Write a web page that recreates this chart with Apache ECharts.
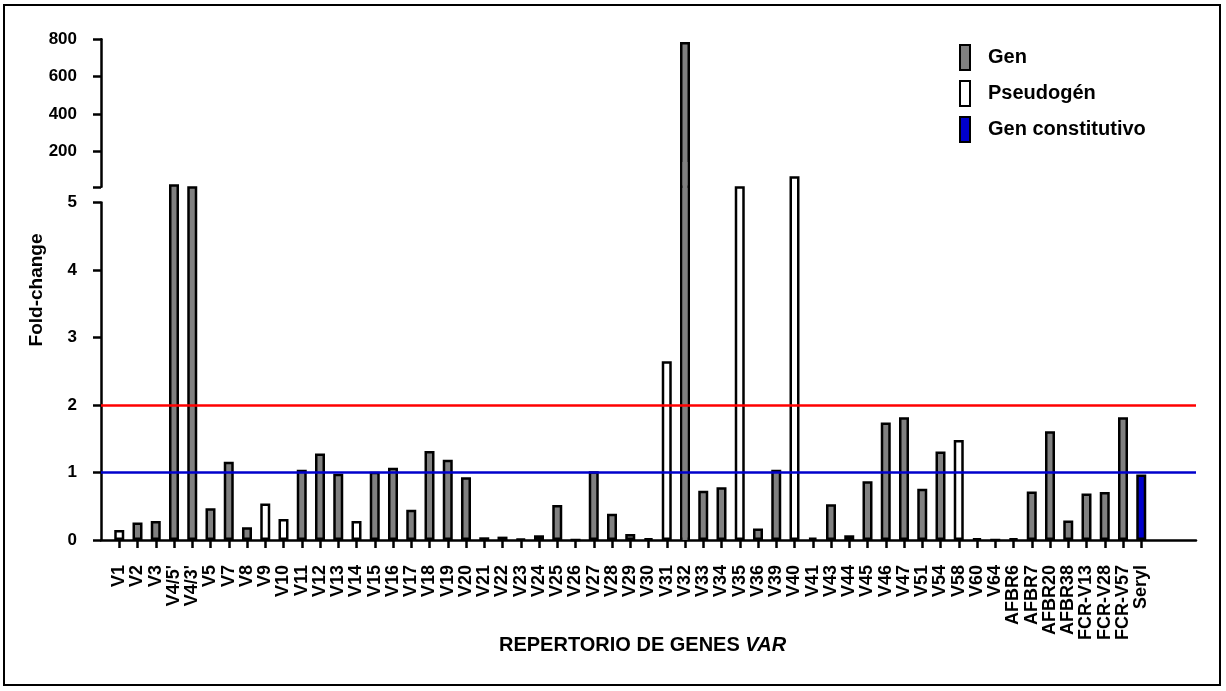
<!DOCTYPE html>
<html>
<head>
<meta charset="utf-8">
<script src="https://cdn.jsdelivr.net/npm/echarts@6/dist/echarts.min.js"></script>
<style>
  html, body { margin: 0; padding: 0; background: #fff; }
  #chart { position: absolute; left: 0; top: 0; width: 1226px; height: 691px; }
  #frame { position: absolute; left: 3px; top: 4px; width: 1218px; height: 682px; border: 2px solid #000; box-sizing: border-box; pointer-events: none; }
</style>
</head>
<body>
<div id="chart"></div>
<div id="frame"></div>
<script>
// ---- data ----
const categories = ["V1","V2","V3","V4/5'","V4/3'","V5","V7","V8","V9","V10","V11","V12","V13","V14","V15","V16","V17","V18","V19","V20","V21","V22","V23","V24","V25","V26","V27","V28","V29","V30","V31","V32","V33","V34","V35","V36","V39","V40","V41","V43","V44","V45","V46","V47","V51","V54","V58","V60","V64","AFBR6","AFBR7","AFBR20","AFBR38","FCR-V13","FCR-V28","FCR-V57","Seryl"];
// G = Gen, P = Pseudogén, C = Gen constitutivo
const geneTypes = ["P","G","G","G","G","G","G","G","P","P","G","G","G","P","G","G","G","G","G","G","G","G","G","G","G","G","G","G","G","G","P","G","G","G","P","G","G","P","G","G","G","G","G","G","G","G","P","G","G","G","G","G","G","G","G","G","C"];
// fold-change as drawn on the lower (0-5) segment; bars above the break are shown at their drawn height
const lowerValues = [0.15,0.26,0.28,5.27,5.24,0.47,1.16,0.19,0.54,0.31,1.04,1.28,0.98,0.28,1.01,1.07,0.45,1.32,1.19,0.93,0.04,0.05,0.015,0.07,0.52,0,1.02,0.39,0.09,0.025,2.65,5.5,0.73,0.78,5.24,0.17,1.04,5.39,0.035,0.53,0.07,0.87,1.74,1.82,0.76,1.31,1.48,0.025,0,0.025,0.72,1.61,0.29,0.69,0.71,1.82,0.97];
// value shown on the upper (200-800) segment
const upperGene = "V32";
const upperValue = 785;
const lowerTicks = [0,1,2,3,4,5];
const upperTicks = [200,400,600,800];
const upperBreak = 10;
const thresholds = [1, 2];
const typeNames = { G: "Gen", P: "Pseudogén", C: "Gen constitutivo" };

// ---- build ----
const pad = (arr, fill) => [fill].concat(arr, [fill, fill, fill]);
const axisCats = pad(categories, "");
const seriesFor = (t) => pad(lowerValues.map((v, i) => geneTypes[i] === t ? v : null), null);
const upperData = pad(categories.map(c => c === upperGene ? upperValue : null), null);
// fill-only joint that hides the seam between the two segments of the broken bar
const jointData = pad(categories.map((c, i) => c === upperGene ? lowerValues[i] + 0.1 : null), null);

const FONT = "Liberation Sans, Arial, sans-serif";
const labelStyle = { fontFamily: FONT, fontWeight: "bold", fontSize: 17, color: "#000" };
const blk = { color: "#000", width: 2.5 };
const fills = { G: "#808080", P: "#ffffff", C: "#0000CC" };
const BW = 10, BORDER = 2.5;

const chart = echarts.init(document.getElementById("chart"), null, { renderer: "canvas" });

const lowerBar = (t) => ({
  name: typeNames[t], type: "bar", xAxisIndex: 0, yAxisIndex: 0,
  data: seriesFor(t), barWidth: BW, barGap: "-100%", clip: false, z: 2,
  itemStyle: { color: fills[t], borderColor: "#000", borderWidth: BORDER },
  emphasis: { disabled: true }
});

chart.setOption({
  animation: false,
  backgroundColor: "#fff",
  title: {
    text: "REPERTORIO DE GENES {i|VAR}",
    left: 494, top: 630,
    textStyle: { fontFamily: FONT, fontWeight: "bold", fontSize: 20, color: "#000",
      rich: { i: { fontFamily: FONT, fontWeight: "bold", fontStyle: "italic", fontSize: 20, color: "#000" } } }
  },
  legend: {
    orient: "vertical", left: 954, top: 39,
    data: ["Gen", "Pseudogén", "Gen constitutivo"],
    itemWidth: 10, itemHeight: 25, itemGap: 9,
    icon: "rect",
    textStyle: { fontFamily: FONT, fontWeight: "bold", fontSize: 20, color: "#000", padding: [0, 0, 0, 13] },
    selectedMode: false
  },
  graphic: [{
    type: "text", x: 37, y: 290, rotation: Math.PI / 2,
    style: { text: "Fold-change", font: "bold 19px " + FONT, fill: "#000", align: "center", verticalAlign: "middle" }
  }],
  grid: [
    { left: 101, right: 30, top: 202.5, bottom: 151 },
    { left: 101, right: 30, top: 39.3, height: 147.5 }
  ],
  xAxis: [
    { type: "category", gridIndex: 0, data: axisCats, boundaryGap: false,
      axisLine: { show: true, lineStyle: blk },
      axisTick: { show: true, length: 8, lineStyle: blk, interval: (i, v) => v !== "" },
      axisLabel: Object.assign({}, labelStyle, { rotate: 90, margin: 25, interval: 0, fontSize: 18 }),
      splitLine: { show: false } },
    { type: "category", gridIndex: 1, data: axisCats, boundaryGap: false, show: false },
    { type: "category", gridIndex: 0, data: axisCats, boundaryGap: false, show: false }
  ],
  yAxis: [
    { type: "value", gridIndex: 0, min: lowerTicks[0], max: lowerTicks[lowerTicks.length - 1], interval: 1,
      axisLine: { show: true, lineStyle: blk },
      axisTick: { show: true, length: 8, lineStyle: blk },
      axisLabel: Object.assign({ margin: 24 }, labelStyle),
      splitLine: { show: false } },
    { type: "value", gridIndex: 1, min: upperBreak, max: upperTicks[upperTicks.length - 1],
      axisLine: { show: true, lineStyle: blk },
      axisTick: { show: true, length: 8, lineStyle: blk, customValues: [upperBreak].concat(upperTicks) },
      axisLabel: Object.assign({ margin: 24, customValues: upperTicks }, labelStyle),
      splitLine: { show: false } }
  ],
  series: [
    { name: "refs", type: "line", xAxisIndex: 0, yAxisIndex: 0, data: axisCats.map(() => null), z: 1,
      silent: true, symbol: "none",
      markLine: { symbol: "none", silent: true, label: { show: false },
        lineStyle: { type: "solid", width: 2.5 },
        data: [
          { yAxis: thresholds[0], lineStyle: { color: "#0000CC", type: "solid", width: 2.5 } },
          { yAxis: thresholds[1], lineStyle: { color: "#FF0000", type: "solid", width: 2.5 } }
        ] } },
    lowerBar("G"), lowerBar("P"), lowerBar("C"),
    { name: "Gen", type: "bar", xAxisIndex: 1, yAxisIndex: 1, data: upperData, barWidth: BW,
      clip: true, z: 3,
      itemStyle: { color: fills.G, borderColor: "#000", borderWidth: BORDER },
      emphasis: { disabled: true } },
    { name: "joint", type: "bar", xAxisIndex: 2, yAxisIndex: 0, data: jointData, barWidth: BW - 2 * BORDER,
      clip: false, z: 4, silent: true,
      itemStyle: { color: fills.G, borderWidth: 0 },
      emphasis: { disabled: true } }
  ]
});
</script>
</body>
</html>
